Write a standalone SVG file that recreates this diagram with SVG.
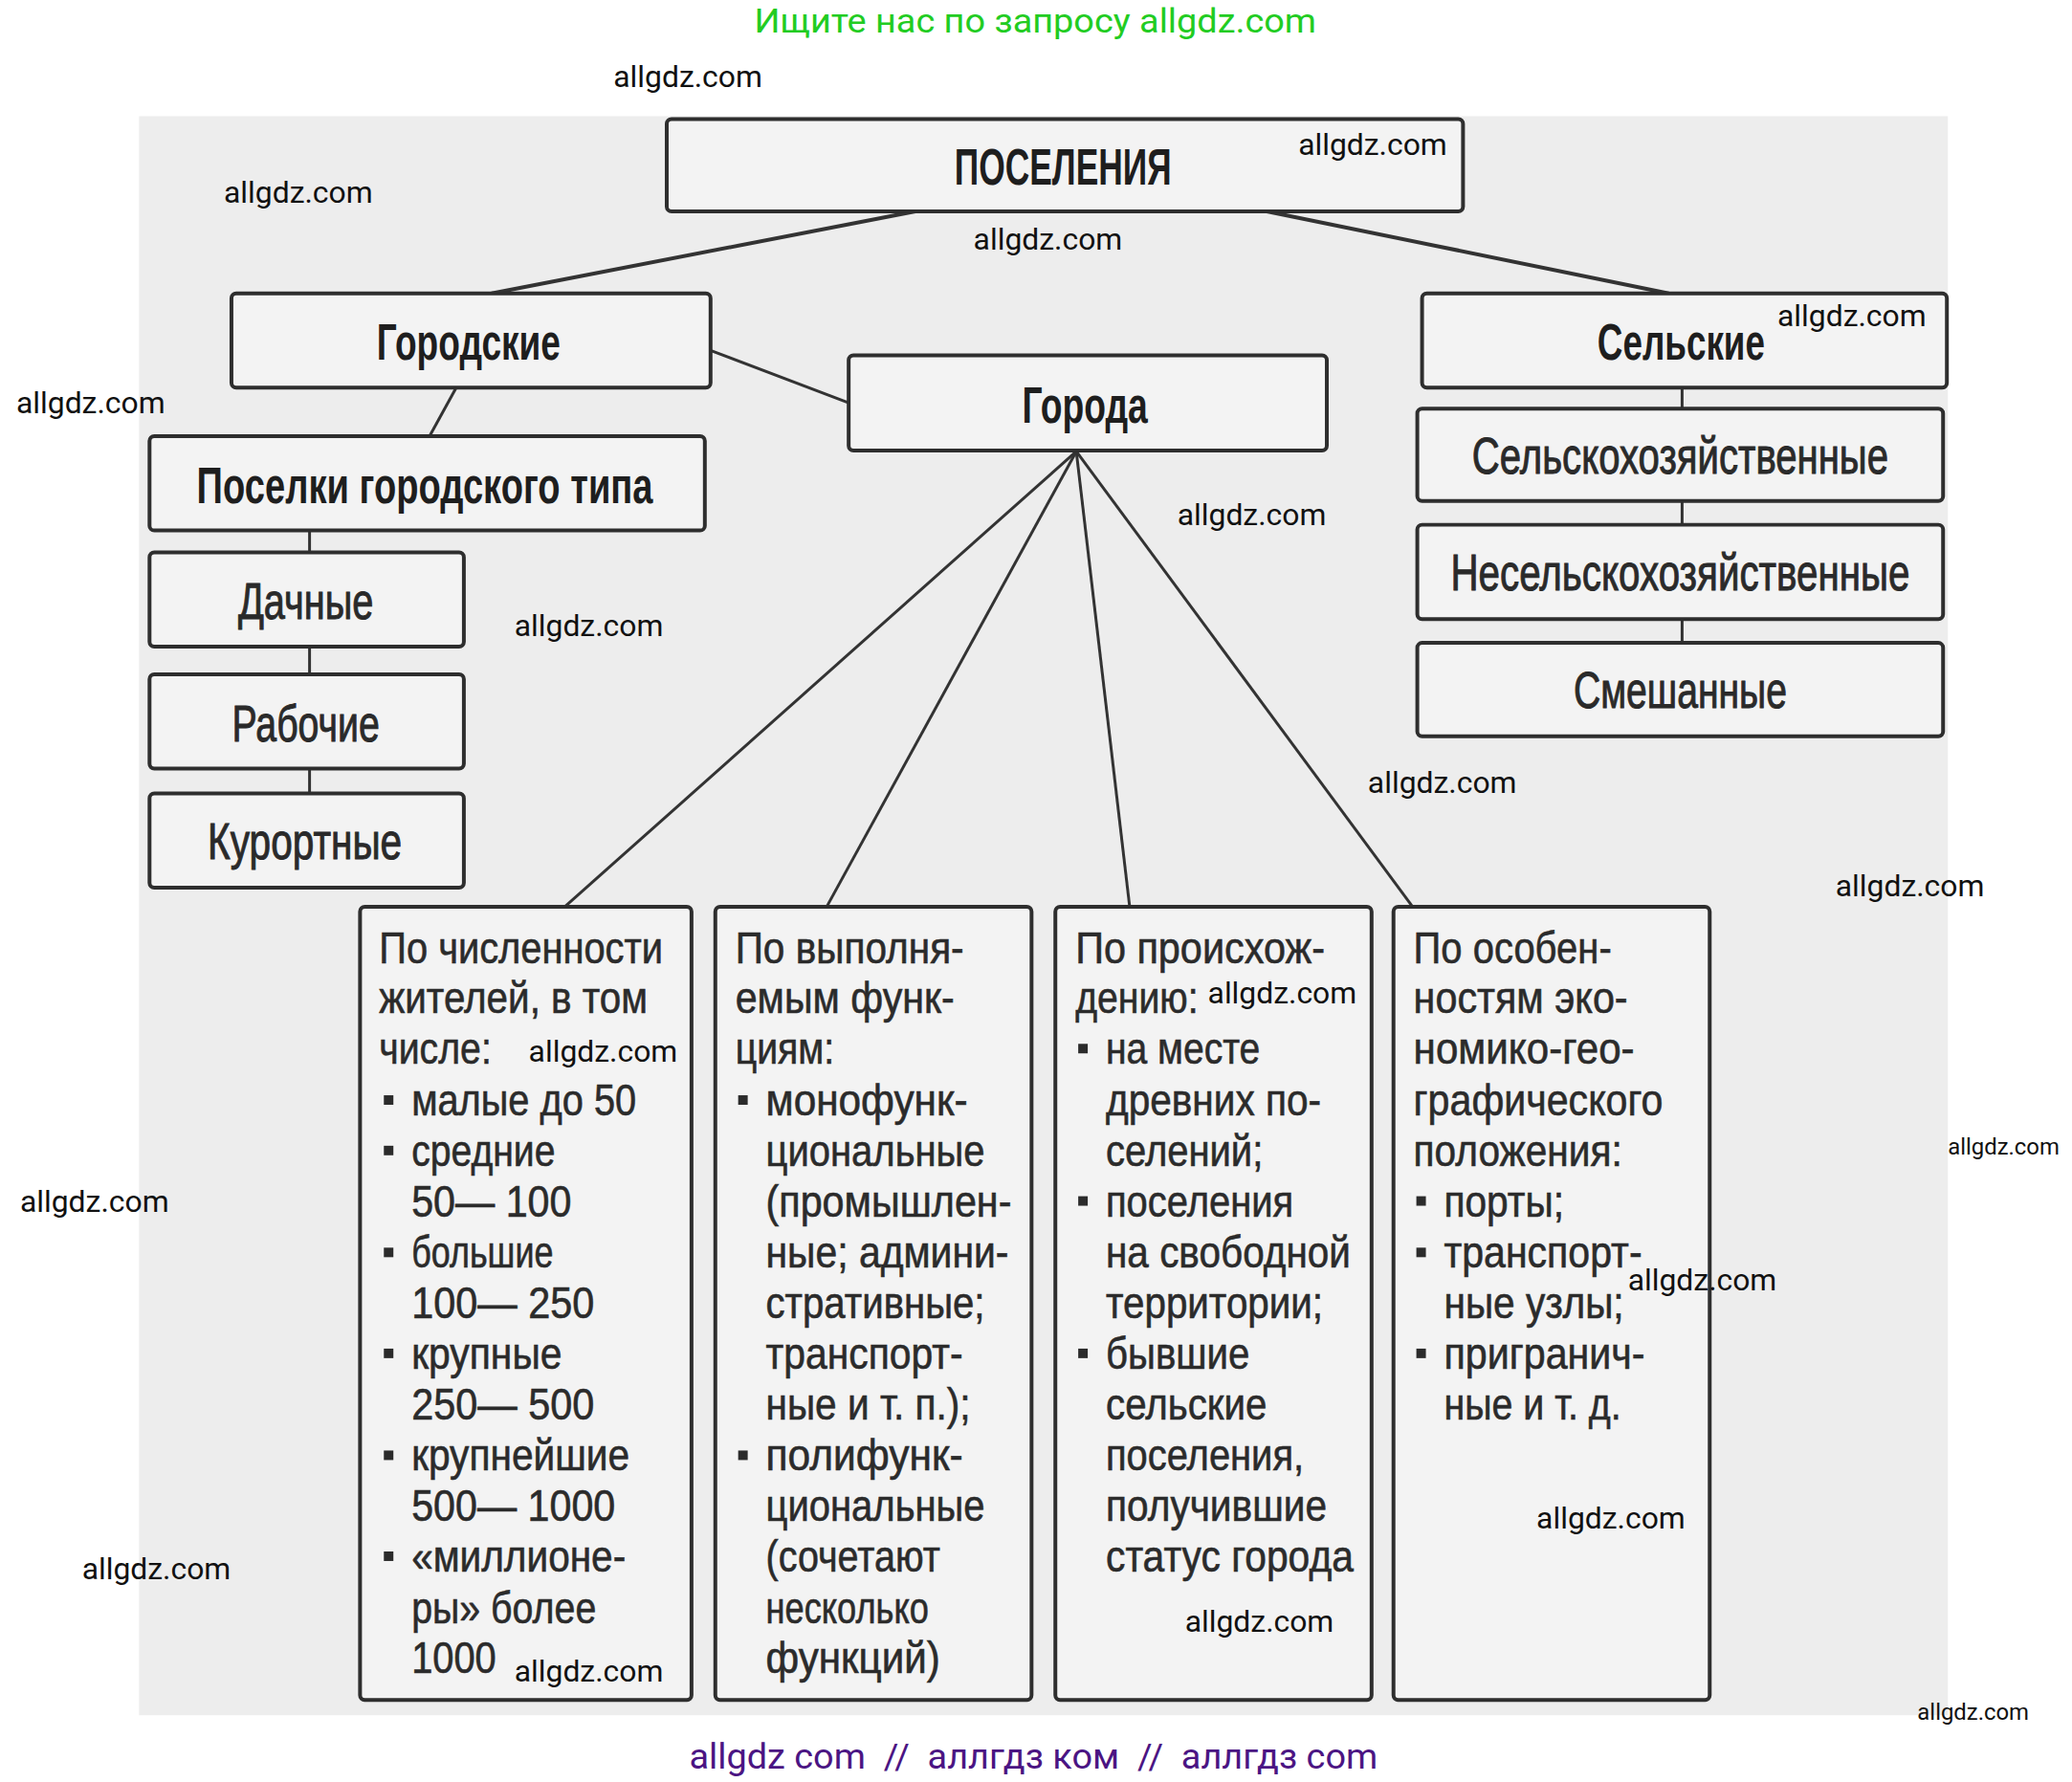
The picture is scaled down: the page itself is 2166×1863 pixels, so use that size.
<svg xmlns="http://www.w3.org/2000/svg" width="2166" height="1863" viewBox="0 0 2166 1863">
<style>
.bg{fill:#ededed}
.box{fill:#f3f3f3;stroke:#2e2e2e;stroke-width:4}
.ln{stroke:#333;stroke-width:3;fill:none}
.lt{stroke:#333;stroke-width:4;fill:none}
.h{font-family:"Liberation Sans",Arial,sans-serif;font-weight:bold;font-size:54px;fill:#1e1e1e;text-anchor:middle}
.m{font-family:"Liberation Sans",Arial,sans-serif;font-size:54px;fill:#2a2a2a;stroke:#2a2a2a;stroke-width:1;text-anchor:middle}
.t{font-family:"Liberation Sans",Arial,sans-serif;font-size:46px;fill:#2b2b2b;stroke:#2b2b2b;stroke-width:0.6}
.b{fill:#2b2b2b}
.wm{font-family:Roboto,"Liberation Sans",sans-serif;font-size:32px;fill:#111}
.ws{font-family:Roboto,"Liberation Sans",sans-serif;font-size:24px;fill:#111}
</style>
<rect width="2166" height="1863" fill="#ffffff"/>
<g transform="scale(0.9957)">
<rect class="bg" x="146" y="122" width="1899" height="1679"/>
<text x="1087" y="34" font-family="Roboto,'Liberation Sans',sans-serif" font-size="35" fill="#22cc22" text-anchor="middle" textLength="590" lengthAdjust="spacingAndGlyphs">Ищите нас по запросу allgdz.com</text>
<g id="connectors">
<line class="lt" x1="961" y1="222" x2="516" y2="308"/>
<line class="lt" x1="1330" y1="222" x2="1752" y2="308"/>
<line class="ln" x1="746" y1="368" x2="891" y2="423"/>
<line class="ln" x1="479" y1="407" x2="451" y2="458"/>
<line class="ln" x1="325" y1="557" x2="325" y2="580"/>
<line class="ln" x1="325" y1="679" x2="325" y2="708"/>
<line class="ln" x1="325" y1="807" x2="325" y2="833"/>
<line class="ln" x1="1766" y1="407" x2="1766" y2="429"/>
<line class="ln" x1="1766" y1="526" x2="1766" y2="551"/>
<line class="ln" x1="1766" y1="650" x2="1766" y2="675"/>
<line class="ln" x1="1130" y1="474" x2="593" y2="952"/>
<line class="ln" x1="1130" y1="474" x2="868" y2="952"/>
<line class="ln" x1="1130" y1="474" x2="1186" y2="952"/>
<line class="ln" x1="1130" y1="474" x2="1483" y2="952"/>
</g>
<g id="n-poseleniya"><rect class="box" x="700" y="125" width="836" height="97" rx="5"/><text class="h" x="1116" y="194" textLength="228" lengthAdjust="spacingAndGlyphs">ПОСЕЛЕНИЯ</text></g>
<g id="n-gorodskie"><rect class="box" x="243" y="308" width="503" height="99" rx="5"/><text class="h" x="492" y="378" textLength="193" lengthAdjust="spacingAndGlyphs">Городские</text></g>
<g id="n-selskie"><rect class="box" x="1493" y="308" width="551" height="99" rx="5"/><text class="h" x="1765" y="378" textLength="176" lengthAdjust="spacingAndGlyphs">Сельские</text></g>
<g id="n-goroda"><rect class="box" x="891" y="373" width="502" height="100" rx="5"/><text class="h" x="1139" y="444" textLength="132" lengthAdjust="spacingAndGlyphs">Города</text></g>
<g id="n-poselki"><rect class="box" x="157" y="458" width="583" height="99" rx="5"/><text class="h" x="446" y="528" textLength="479" lengthAdjust="spacingAndGlyphs">Поселки городского типа</text></g>
<g id="n-dachnye"><rect class="box" x="157" y="580" width="330" height="99" rx="5"/><text class="m" x="321" y="650" textLength="142" lengthAdjust="spacingAndGlyphs">Дачные</text></g>
<g id="n-rabochie"><rect class="box" x="157" y="708" width="330" height="99" rx="5"/><text class="m" x="321" y="778" textLength="155" lengthAdjust="spacingAndGlyphs">Рабочие</text></g>
<g id="n-kurortnye"><rect class="box" x="157" y="833" width="330" height="99" rx="5"/><text class="m" x="320" y="902" textLength="204" lengthAdjust="spacingAndGlyphs">Курортные</text></g>
<g id="n-selhoz"><rect class="box" x="1488" y="429" width="552" height="97" rx="5"/><text class="m" x="1764" y="497" textLength="437" lengthAdjust="spacingAndGlyphs">Сельскохозяйственные</text></g>
<g id="n-neselhoz"><rect class="box" x="1488" y="551" width="552" height="99" rx="5"/><text class="m" x="1764" y="620" textLength="482" lengthAdjust="spacingAndGlyphs">Несельскохозяйственные</text></g>
<g id="n-smeshannye"><rect class="box" x="1488" y="675" width="552" height="98" rx="5"/><text class="m" x="1764" y="743" textLength="224" lengthAdjust="spacingAndGlyphs">Смешанные</text></g>
<g id="n-chislennost">
<rect class="box" x="378" y="952" width="348" height="833" rx="5"/>
<text class="t" x="398" y="1011" textLength="298" lengthAdjust="spacingAndGlyphs">По численности</text>
<text class="t" x="398" y="1064" textLength="282" lengthAdjust="spacingAndGlyphs">жителей, в том</text>
<text class="t" x="398" y="1117" textLength="118" lengthAdjust="spacingAndGlyphs">числе:</text>
<rect class="b" x="403" y="1150" width="10" height="10"/><text class="t" x="432" y="1171" textLength="236" lengthAdjust="spacingAndGlyphs">малые до 50</text>
<rect class="b" x="403" y="1203" width="10" height="10"/><text class="t" x="432" y="1224" textLength="151" lengthAdjust="spacingAndGlyphs">средние</text>
<text class="t" x="432" y="1277" textLength="168" lengthAdjust="spacingAndGlyphs">50— 100</text>
<rect class="b" x="403" y="1310" width="10" height="10"/><text class="t" x="432" y="1331" textLength="149" lengthAdjust="spacingAndGlyphs">большие</text>
<text class="t" x="432" y="1384" textLength="192" lengthAdjust="spacingAndGlyphs">100— 250</text>
<rect class="b" x="403" y="1416" width="10" height="10"/><text class="t" x="432" y="1437" textLength="158" lengthAdjust="spacingAndGlyphs">крупные</text>
<text class="t" x="432" y="1490" textLength="192" lengthAdjust="spacingAndGlyphs">250— 500</text>
<rect class="b" x="403" y="1523" width="10" height="10"/><text class="t" x="432" y="1544" textLength="229" lengthAdjust="spacingAndGlyphs">крупнейшие</text>
<text class="t" x="432" y="1597" textLength="214" lengthAdjust="spacingAndGlyphs">500— 1000</text>
<rect class="b" x="403" y="1629" width="10" height="10"/><text class="t" x="432" y="1650" textLength="225" lengthAdjust="spacingAndGlyphs">«миллионе-</text>
<text class="t" x="432" y="1704" textLength="194" lengthAdjust="spacingAndGlyphs">ры» более</text>
<text class="t" x="432" y="1757" textLength="89" lengthAdjust="spacingAndGlyphs">1000</text>
</g>
<g id="n-funkcii">
<rect class="box" x="751" y="952" width="332" height="833" rx="5"/>
<text class="t" x="772" y="1011" textLength="240" lengthAdjust="spacingAndGlyphs">По выполня-</text>
<text class="t" x="772" y="1064" textLength="230" lengthAdjust="spacingAndGlyphs">емым функ-</text>
<text class="t" x="772" y="1117" textLength="104" lengthAdjust="spacingAndGlyphs">циям:</text>
<rect class="b" x="775" y="1150" width="10" height="10"/><text class="t" x="804" y="1171" textLength="212" lengthAdjust="spacingAndGlyphs">монофунк-</text>
<text class="t" x="804" y="1224" textLength="230" lengthAdjust="spacingAndGlyphs">циональные</text>
<text class="t" x="804" y="1277" textLength="258" lengthAdjust="spacingAndGlyphs">(промышлен-</text>
<text class="t" x="804" y="1331" textLength="255" lengthAdjust="spacingAndGlyphs">ные; админи-</text>
<text class="t" x="804" y="1384" textLength="230" lengthAdjust="spacingAndGlyphs">стративные;</text>
<text class="t" x="804" y="1437" textLength="207" lengthAdjust="spacingAndGlyphs">транспорт-</text>
<text class="t" x="804" y="1490" textLength="215" lengthAdjust="spacingAndGlyphs">ные и т. п.);</text>
<rect class="b" x="775" y="1523" width="10" height="10"/><text class="t" x="804" y="1544" textLength="207" lengthAdjust="spacingAndGlyphs">полифунк-</text>
<text class="t" x="804" y="1597" textLength="230" lengthAdjust="spacingAndGlyphs">циональные</text>
<text class="t" x="804" y="1650" textLength="183" lengthAdjust="spacingAndGlyphs">(сочетают</text>
<text class="t" x="804" y="1704" textLength="171" lengthAdjust="spacingAndGlyphs">несколько</text>
<text class="t" x="804" y="1757" textLength="183" lengthAdjust="spacingAndGlyphs">функций)</text>
</g>
<g id="n-proishozhdenie">
<rect class="box" x="1108" y="952" width="332" height="833" rx="5"/>
<text class="t" x="1129" y="1011" textLength="262" lengthAdjust="spacingAndGlyphs">По происхож-</text>
<text class="t" x="1129" y="1064" textLength="129" lengthAdjust="spacingAndGlyphs">дению:</text>
<rect class="b" x="1132" y="1096" width="10" height="10"/><text class="t" x="1161" y="1117" textLength="162" lengthAdjust="spacingAndGlyphs">на месте</text>
<text class="t" x="1161" y="1171" textLength="226" lengthAdjust="spacingAndGlyphs">древних по-</text>
<text class="t" x="1161" y="1224" textLength="165" lengthAdjust="spacingAndGlyphs">селений;</text>
<rect class="b" x="1132" y="1256" width="10" height="10"/><text class="t" x="1161" y="1277" textLength="197" lengthAdjust="spacingAndGlyphs">поселения</text>
<text class="t" x="1161" y="1331" textLength="257" lengthAdjust="spacingAndGlyphs">на свободной</text>
<text class="t" x="1161" y="1384" textLength="228" lengthAdjust="spacingAndGlyphs">территории;</text>
<rect class="b" x="1132" y="1416" width="10" height="10"/><text class="t" x="1161" y="1437" textLength="151" lengthAdjust="spacingAndGlyphs">бывшие</text>
<text class="t" x="1161" y="1490" textLength="169" lengthAdjust="spacingAndGlyphs">сельские</text>
<text class="t" x="1161" y="1544" textLength="208" lengthAdjust="spacingAndGlyphs">поселения,</text>
<text class="t" x="1161" y="1597" textLength="232" lengthAdjust="spacingAndGlyphs">получившие</text>
<text class="t" x="1161" y="1650" textLength="260" lengthAdjust="spacingAndGlyphs">статус города</text>
</g>
<g id="n-egp">
<rect class="box" x="1463" y="952" width="332" height="833" rx="5"/>
<text class="t" x="1484" y="1011" textLength="208" lengthAdjust="spacingAndGlyphs">По особен-</text>
<text class="t" x="1484" y="1064" textLength="225" lengthAdjust="spacingAndGlyphs">ностям эко-</text>
<text class="t" x="1484" y="1117" textLength="232" lengthAdjust="spacingAndGlyphs">номико-гео-</text>
<text class="t" x="1484" y="1171" textLength="262" lengthAdjust="spacingAndGlyphs">графического</text>
<text class="t" x="1484" y="1224" textLength="219" lengthAdjust="spacingAndGlyphs">положения:</text>
<rect class="b" x="1487" y="1256" width="10" height="10"/><text class="t" x="1516" y="1277" textLength="126" lengthAdjust="spacingAndGlyphs">порты;</text>
<rect class="b" x="1487" y="1310" width="10" height="10"/><text class="t" x="1516" y="1331" textLength="208" lengthAdjust="spacingAndGlyphs">транспорт-</text>
<text class="t" x="1516" y="1384" textLength="189" lengthAdjust="spacingAndGlyphs">ные узлы;</text>
<rect class="b" x="1487" y="1416" width="10" height="10"/><text class="t" x="1516" y="1437" textLength="211" lengthAdjust="spacingAndGlyphs">пригранич-</text>
<text class="t" x="1516" y="1490" textLength="186" lengthAdjust="spacingAndGlyphs">ные и т. д.</text>
</g>
<g id="watermarks">
<text class="wm" x="644" y="91">allgdz.com</text>
<text class="wm" x="1363" y="163">allgdz.com</text>
<text class="wm" x="235" y="213">allgdz.com</text>
<text class="wm" x="1022" y="262">allgdz.com</text>
<text class="wm" x="1866" y="342">allgdz.com</text>
<text class="wm" x="17" y="434">allgdz.com</text>
<text class="wm" x="1236" y="551">allgdz.com</text>
<text class="wm" x="540" y="668">allgdz.com</text>
<text class="wm" x="1436" y="833">allgdz.com</text>
<text class="wm" x="1927" y="941">allgdz.com</text>
<text class="wm" x="1268" y="1054">allgdz.com</text>
<text class="wm" x="555" y="1115">allgdz.com</text>
<text class="ws" x="2045" y="1212">allgdz.com</text>
<text class="wm" x="21" y="1272">allgdz.com</text>
<text class="wm" x="1709" y="1355">allgdz.com</text>
<text class="wm" x="1613" y="1605">allgdz.com</text>
<text class="wm" x="86" y="1658">allgdz.com</text>
<text class="wm" x="1244" y="1713">allgdz.com</text>
<text class="wm" x="540" y="1766">allgdz.com</text>
<text class="ws" x="2013" y="1806">allgdz.com</text>
</g>
<text x="1085" y="1857" font-family="Roboto,'Liberation Sans',sans-serif" font-size="38" fill="#4b1583" text-anchor="middle" xml:space="preserve" textLength="723" lengthAdjust="spacingAndGlyphs">allgdz com  //  аллгдз ком  //  аллгдз com</text>
</g>
</svg>
